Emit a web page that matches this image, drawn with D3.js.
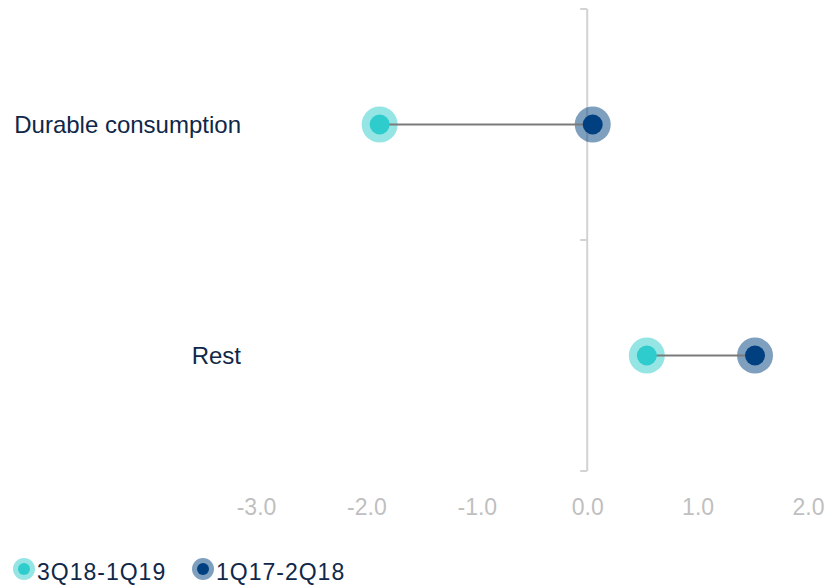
<!DOCTYPE html>
<html>
<head>
<meta charset="utf-8">
<script src="https://cdn.jsdelivr.net/npm/d3@7"></script>
<style>
  body { margin: 0; background: #fff; }
  text { font-family: "Liberation Sans", Arial, sans-serif; }
</style>
</head>
<body>
<svg class="chart"></svg>
<script>
var categories = ["Durable consumption", "Rest"];
var seriesNames = ["3Q18-1Q19", "1Q17-2Q18"];
var recent = [-1.88, 0.54];   // 3Q18-1Q19
var earlier = [0.05, 1.52];   // 1Q17-2Q18
var tickValues = [-3, -2, -1, 0, 1, 2];

var svgWidth = 829,
    svgHeight = 585;

var colors = ["#2ecccc", "#004080"];
var textColor = "#0f2748";

var svg = d3.select('.chart')
    .attr('width', svgWidth)
    .attr('height', svgHeight);

var x = d3.scaleLinear()
    .domain([-3, 2])
    .range([256, 808]);

var y = d3.scaleBand()
    .domain(categories)
    .range([9, 471]);

// vertical zero line with boundary ticks
svg.append('line')
  .attr('x1', x(0)).attr('x2', x(0))
  .attr('y1', y.range()[0]).attr('y2', y.range()[1])
  .attr('stroke', '#d3d3d3')
  .attr('stroke-width', 2);

var bounds = categories.map(function(c) { return y(c); }).concat([y.range()[1]]);
svg.selectAll('.ytick')
  .data(bounds)
  .enter()
  .append('line')
  .attr('x1', x(0) - 7).attr('x2', x(0))
  .attr('y1', function(d) { return d; })
  .attr('y2', function(d) { return d; })
  .attr('stroke', '#d3d3d3')
  .attr('stroke-width', 2);

// bottom axis (labels only), plain hyphen as minus
var fmt = d3.format('.1f');
var xAxis = d3.axisBottom(x)
    .tickValues(tickValues)
    .tickSize(0)
    .tickPadding(3)
    .tickFormat(function(d) { return fmt(d).replace('\u2212', '-'); });

var gx = svg.append('g')
    .attr('transform', 'translate(0,496)')
    .call(xAxis);
gx.select('.domain').remove();
gx.selectAll('text')
  .attr('fill', '#bfbfbf')
  .style('font-size', '23px')
  .style('font-family', '"Liberation Sans", Arial, sans-serif');

// category labels
svg.selectAll('.cat')
  .data(categories)
  .enter()
  .append('text')
  .attr('x', 241)
  .attr('y', function(d) { return y(d) + y.bandwidth() / 2; })
  .attr('dy', '0.35em')
  .attr('text-anchor', 'end')
  .attr('fill', textColor)
  .style('font-size', '24px')
  .text(function(d) { return d; });

var rows = categories.map(function(c, i) {
  return { cat: c, a: recent[i], b: earlier[i] };
});

var row = svg.selectAll('.row')
  .data(rows)
  .enter()
  .append('g')
  .attr('transform', function(d) { return 'translate(0,' + (y(d.cat) + y.bandwidth() / 2) + ')'; });

// halos
row.append('circle')
  .attr('cx', function(d) { return x(d.a); })
  .attr('r', 18)
  .attr('fill', colors[0])
  .attr('fill-opacity', 0.5);
row.append('circle')
  .attr('cx', function(d) { return x(d.b); })
  .attr('r', 18)
  .attr('fill', colors[1])
  .attr('fill-opacity', 0.5);

// connector
row.append('line')
  .attr('x1', function(d) { return x(d.a); })
  .attr('x2', function(d) { return x(d.b); })
  .attr('stroke', '#7a7a7a')
  .attr('stroke-width', 2);

// dots
row.append('circle')
  .attr('cx', function(d) { return x(d.a); })
  .attr('r', 10)
  .attr('fill', colors[0]);
row.append('circle')
  .attr('cx', function(d) { return x(d.b); })
  .attr('r', 10)
  .attr('fill', colors[1]);

// legend
var legendX = [24, 203];
var legend = svg.selectAll('.legend')
  .data(seriesNames)
  .enter()
  .append('g')
  .attr('transform', function(d, i) { return 'translate(' + legendX[i] + ',569)'; });

legend.append('circle')
  .attr('r', 11)
  .attr('fill', function(d, i) { return colors[i]; })
  .attr('fill-opacity', 0.5);
legend.append('circle')
  .attr('r', 6)
  .attr('fill', function(d, i) { return colors[i]; });
legend.append('text')
  .attr('x', 13)
  .attr('y', 11)
  .attr('fill', textColor)
  .style('font-size', '23px')
  .style('letter-spacing', '1px')
  .text(function(d) { return d; });
</script>
</body>
</html>
